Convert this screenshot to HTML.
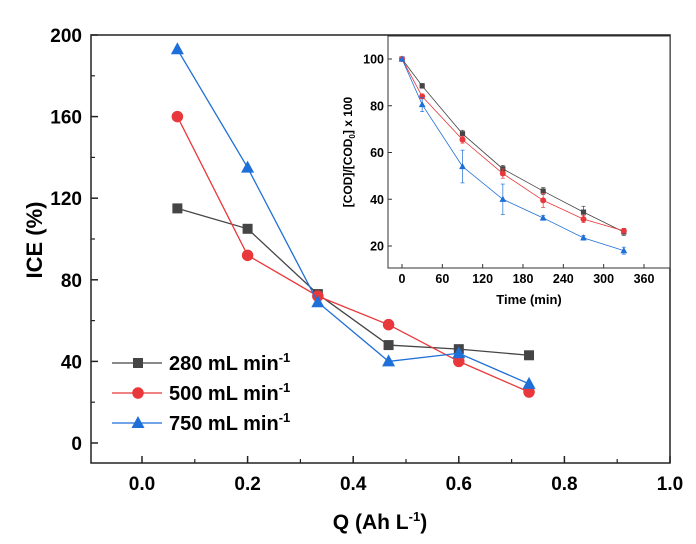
<!DOCTYPE html>
<html><head><meta charset="utf-8"><style>
body{margin:0;background:#fff;}
svg{display:block;font-family:"Liberation Sans",Arial,sans-serif;font-weight:bold;}
</style></head><body>
<svg id="c" width="696" height="544" viewBox="0 0 696 544"></svg>
<script>
const qValues=[0.067,0.2,0.333,0.467,0.6,0.733];
const ice280=[115,105,73,48,46,43];
const ice500=[160,92,72,58,40,25];
const ice750=[193,135,69,40,44,29];
const xTicks=[0.0,0.2,0.4,0.6,0.8,1.0];
const yTicks=[0,40,80,120,160,200];
const seriesNames=["280 mL min","500 mL min","750 mL min"];
const times=[0,30,90,150,210,270,330];
const cod280=[100,88.5,68,53,43.5,34.5,26];
const cod500=[100,84,65.5,51,39.5,31.5,26.5];
const cod750=[100,80.5,54,40,32,23.5,18];
const err280=[0,1,1.5,1.5,1.5,2.5,1.5];
const err500=[0,1,1.5,2,3,1.5,1];
const err750=[0,3,7,6.5,1,1,1.5];
const tTicks=[0,60,120,180,240,300,360];
const cTicks=[20,40,60,80,100];

const NS="http://www.w3.org/2000/svg";
const svg=document.getElementById('c');
function el(tag,attrs,parent,text){const e=document.createElementNS(NS,tag);for(const k in attrs)e.setAttribute(k,attrs[k]);if(text!==undefined)e.textContent=text;(parent||svg).appendChild(e);return e;}
const colors=["#454545","#e8383b","#1f6fd9"];
const X=v=>142+(v-0)*528;
const Y=v=>443-v*2.04;
const gMain=el('g',{});


const frame=el('rect',{x:91,y:35,width:579,height:428,fill:'none',stroke:'#222','stroke-width':1.5},gMain);


xTicks.forEach(t=>{
  el('line',{x1:X(t),x2:X(t),y1:463,y2:456,stroke:'#222','stroke-width':1.5},gMain);
  if(t<1)el('line',{x1:X(t+0.1),x2:X(t+0.1),y1:463,y2:459,stroke:'#222','stroke-width':1.2},gMain);
  const tl=el('text',{x:X(t),y:490,'font-size':19,'text-anchor':'middle'},gMain,t.toFixed(1));
  
  
});
yTicks.forEach(t=>{
  el('line',{x1:91,x2:98,y1:Y(t),y2:Y(t),stroke:'#222','stroke-width':1.5},gMain);
  if(t<200)el('line',{x1:91,x2:95,y1:Y(t+20),y2:Y(t+20),stroke:'#222','stroke-width':1.2},gMain);
  const tl=el('text',{x:82,y:Y(t)+7,'font-size':19,'text-anchor':'end'},gMain,String(t));
  
  
});
const xt=el('text',{x:380,y:529,'font-size':21,'text-anchor':'middle'},gMain);


xt.innerHTML='Q (Ah L<tspan dy="-8" font-size="13">-1</tspan><tspan dy="8">)</tspan>';
const yt=el('text',{x:0,y:0,'font-size':22,'text-anchor':'middle',transform:'translate(42,240) rotate(-90)'},gMain,'ICE (%)');


function marker(i,x,y,s,parent){
  let m;
  if(i===0)m=el('rect',{x:x-s,y:y-s,width:2*s,height:2*s,fill:colors[0]},parent);
  else if(i===1)m=el('circle',{cx:x,cy:y,r:s*1.15,fill:colors[1]},parent);
  else m=el('polygon',{points:`${x},${y-s*1.4} ${x-s*1.3},${y+s} ${x+s*1.3},${y+s}`,fill:colors[2]},parent);
  return m;
}
[ice280,ice500,ice750].forEach((d,i)=>{
  const g=el('g',{},gMain);
  
  
  el('polyline',{points:d.map((v,j)=>X(qValues[j])+','+Y(v)).join(' '),fill:'none',stroke:colors[i],'stroke-width':1.3},g);
  d.forEach((v,j)=>{const m=marker(i,X(qValues[j]),Y(v),5,g);
    
    });
});
const lg=el('g',{},gMain);


seriesNames.forEach((n,i)=>{
  const y=363+i*30;
  const e=el('g',{},lg);
  
  
  el('line',{x1:112,x2:162,y1:y,y2:y,stroke:colors[i],'stroke-width':1.3},e);
  marker(i,138,y,5,e);
  const t=el('text',{x:169,y:y+7,'font-size':20},e);
  t.innerHTML=n+'<tspan dy="-8" font-size="13">-1</tspan>';
});
const IX=v=>402+v*242/360;
const IY=v=>246-(v-20)*187/80;
const gi=el('g',{});


el('rect',{x:388,y:36,width:282,height:232,fill:'#fff',stroke:'#333','stroke-width':1},gi);
tTicks.forEach(t=>{
  el('line',{x1:IX(t),x2:IX(t),y1:268,y2:264,stroke:'#333'},gi);
  const tl=el('text',{x:IX(t),y:283,'font-size':12.5,'text-anchor':'middle'},gi,String(t));
  
  
});
cTicks.forEach(t=>{
  el('line',{x1:388,x2:392,y1:IY(t),y2:IY(t),stroke:'#333'},gi);
  const tl=el('text',{x:384,y:IY(t)+4.5,'font-size':12.5,'text-anchor':'end'},gi,String(t));
  
  
});
const it=el('text',{x:529,y:304,'font-size':13,'text-anchor':'middle'},gi,'Time (min)');


const iy=el('text',{x:0,y:0,'font-size':12,'text-anchor':'middle',transform:'translate(352,152) rotate(-90)'},gi);


iy.innerHTML='[COD]/[COD<tspan dy="3" font-size="8">0</tspan><tspan dy="-3">] x 100</tspan>';
const insetColors=["#454545","#e8383b","#1f6fd9"];
[[cod280,err280],[cod500,err500],[cod750,err750]].forEach(([d,e],i)=>{
  const g=el('g',{},gi);
  
  
  el('polyline',{points:d.map((v,j)=>IX(times[j])+','+IY(v)).join(' '),fill:'none',stroke:insetColors[i],'stroke-width':0.8},g);
  d.forEach((v,j)=>{
    const x=IX(times[j]);
    if(e[j]>0){
      el('line',{x1:x,x2:x,y1:IY(v-e[j]),y2:IY(v+e[j]),stroke:insetColors[i],'stroke-width':0.7},g);
      el('line',{x1:x-2,x2:x+2,y1:IY(v-e[j]),y2:IY(v-e[j]),stroke:insetColors[i],'stroke-width':0.7},g);
      el('line',{x1:x-2,x2:x+2,y1:IY(v+e[j]),y2:IY(v+e[j]),stroke:insetColors[i],'stroke-width':0.7},g);
    }
    const m=marker(i,x,IY(v),2.6,g);
    
    
  });
});
</script>
</body></html>
